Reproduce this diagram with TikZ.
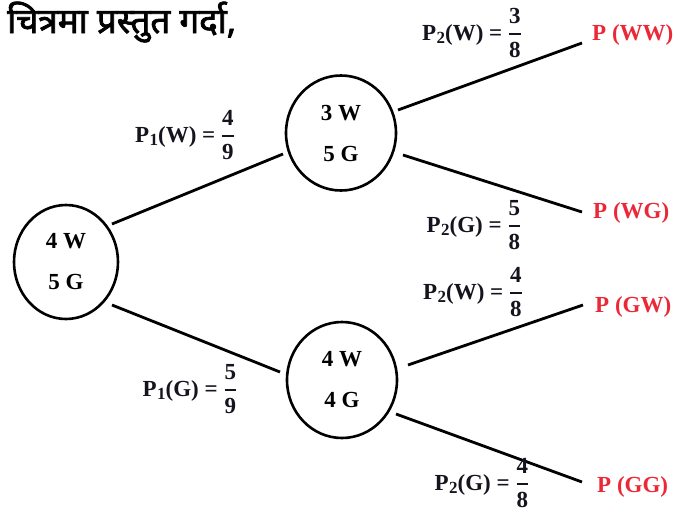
\documentclass[tikz,border=0pt]{standalone}
\usepackage{fontspec}
\setmainfont{Liberation Serif}
\newfontfamily\devfont[Script=Devanagari, FakeBold=2.2]{Noto Sans}
\usetikzlibrary{shapes.geometric}
\definecolor{pred}{RGB}{235,40,55}
\definecolor{ink}{RGB}{20,20,30}
\newcommand{\plab}[4]{P\kern0.5pt\raisebox{-3.5pt}{\fontsize{17}{17}\selectfont #1}(#2) = $\displaystyle{\hbox{#3}\above1.6pt\hbox{#4}}$}
\begin{document}
\begin{tikzpicture}[x=1pt,y=-1pt,
  urn/.style={ellipse, draw, line width=2.6pt, inner sep=0pt, align=center, font=\fontsize{23}{41}\selectfont\bfseries},
  edge/.style={line width=2.8pt},
  prob/.style={font=\fontsize{23}{27}\selectfont\bfseries, text=ink, inner sep=0pt},
  res/.style={font=\fontsize{23}{27}\selectfont\bfseries, text=pred, inner sep=0pt, anchor=west}]
\useasboundingbox (0,0) rectangle (681,523);
% title
\node[anchor=base west, inner sep=0pt, font=\devfont\fontsize{35}{38}\selectfont] (title) at (7,33) {चित्रमा प्रस्तुत गर्दा,};
% urns
\node[urn, minimum width=104pt, minimum height=114pt] (root) at (66,262) {4 W\\5 G};
\node[urn, minimum width=110pt, minimum height=115pt] (up) at (341,133) {3 W\\5 G};
\node[urn, minimum width=110pt, minimum height=116pt] (low) at (342,380) {4 W\\4 G};
% results
\node[res] (ww) at (592,35) {P (WW)};
\node[res] (wg) at (593,213) {P (WG)};
\node[res] (gw) at (595,307) {P (GW)};
\node[res] (gg) at (597,487) {P (GG)};
\coordinate (eWW) at ([shift={(-10,8)}]ww.west);
\coordinate (eWG) at ([shift={(-11,-1)}]wg.west);
\coordinate (eGW) at ([shift={(-12,-2)}]gw.west);
\coordinate (eGG) at ([shift={(-15,-5)}]gg.west);
% connectors
\draw[edge] ([shift={(46,-38)}]root.center) -- ([shift={(-58,21)}]up.center);
\draw[edge] ([shift={(46,43)}]root.center) -- ([shift={(-62,-8)}]low.center);
\draw[edge] ([shift={(57,-23)}]up.center) -- (eWW);
\draw[edge] ([shift={(62,22)}]up.center) -- (eWG);
\draw[edge] ([shift={(66,-15)}]low.center) -- (eGW);
\draw[edge] ([shift={(54,34)}]low.center) -- (eGG);
% probability labels
\node[prob] (p1w) at (185,135) {\plab{1}{W}{4}{9}};
\node[prob] (p1g) at (190,389) {\plab{1}{G}{5}{9}};
\node[prob] (p2ww) at (472,33) {\plab{2}{W}{3}{8}};
\node[prob] (p2wg) at (474,225) {\plab{2}{G}{5}{8}};
\node[prob] (p2gw) at (473,292) {\plab{2}{W}{4}{8}};
\node[prob] (p2gg) at (482,483) {\plab{2}{G}{4}{8}};
\end{tikzpicture}
\end{document}
